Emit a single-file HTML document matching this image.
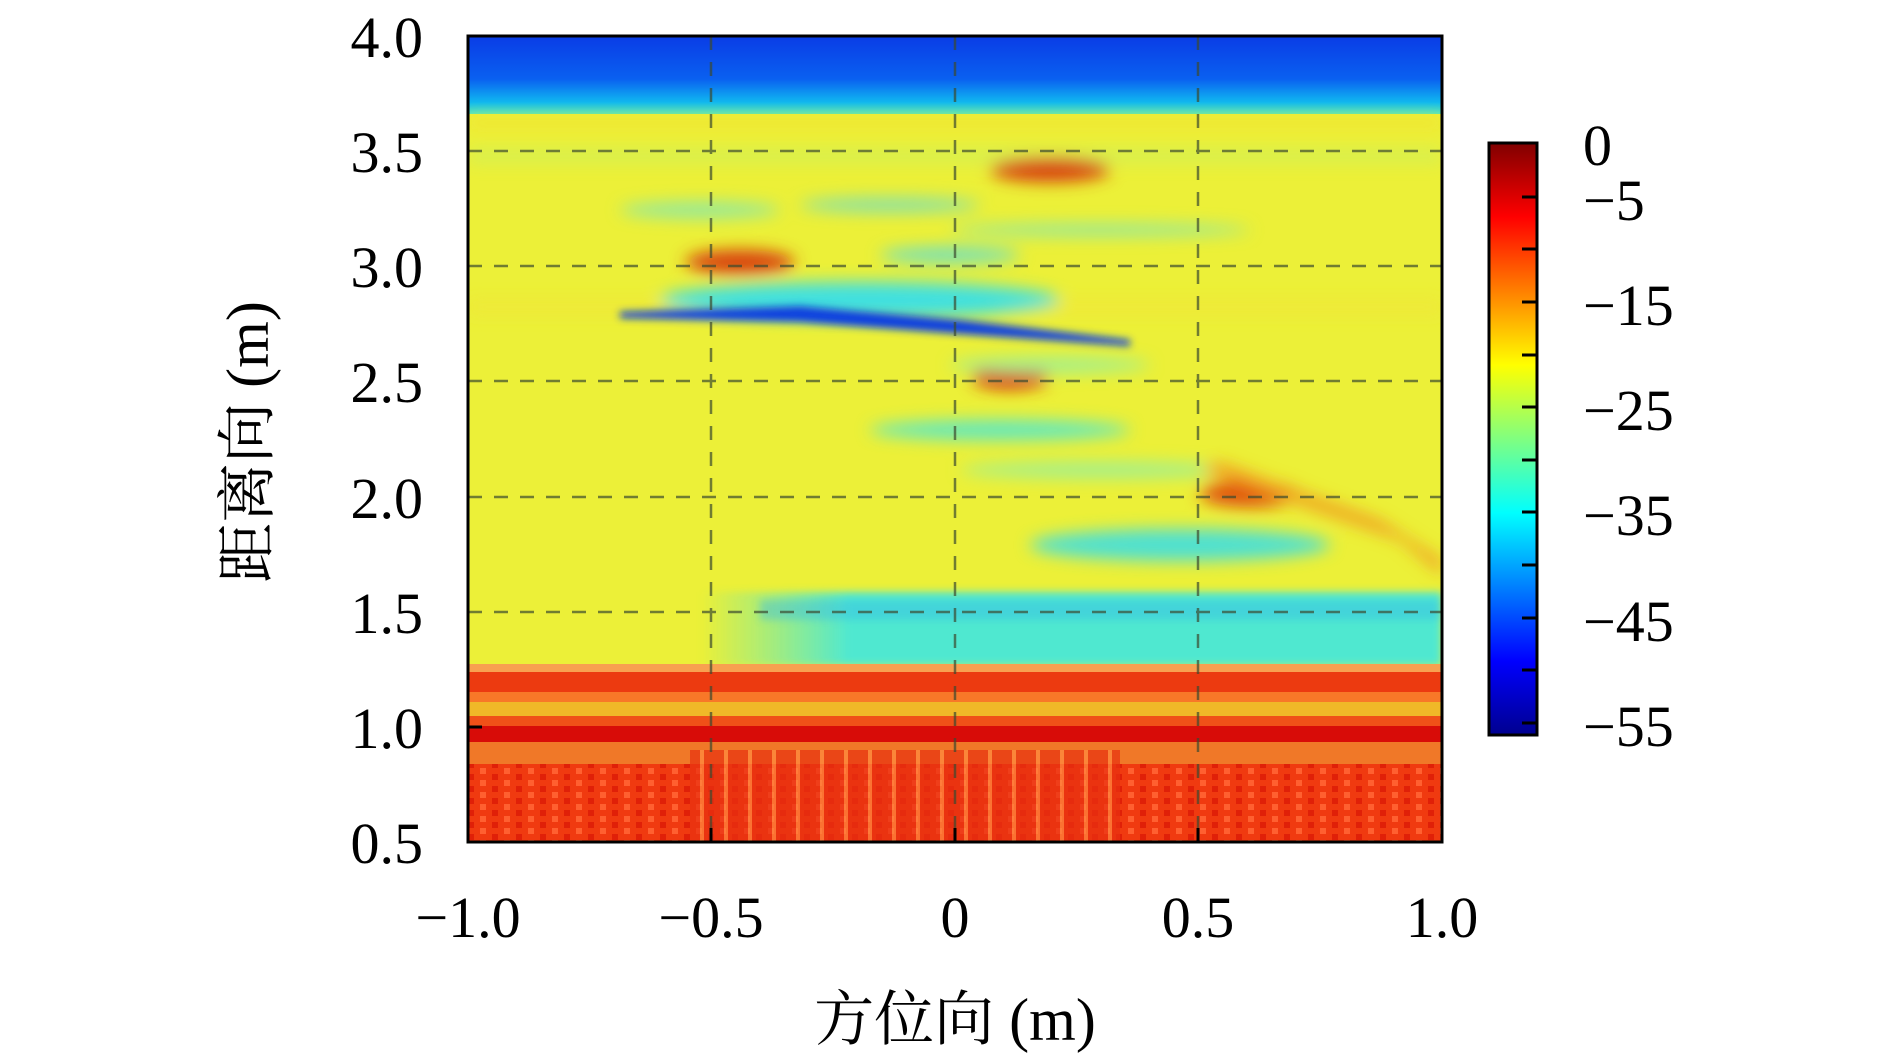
<!DOCTYPE html>
<html><head><meta charset="utf-8"><style>
html,body{margin:0;padding:0;background:#fff;}
svg text{font-family:"Liberation Serif","Noto Serif CJK SC",serif;fill:#000;}
</style></head><body>
<svg width="1890" height="1054" viewBox="0 0 1890 1054" xmlns="http://www.w3.org/2000/svg">
<defs>
<linearGradient id="jet" x1="0" y1="1" x2="0" y2="0">
<stop offset="0" stop-color="#00008f"/><stop offset="0.125" stop-color="#0000ff"/>
<stop offset="0.375" stop-color="#00ffff"/><stop offset="0.5" stop-color="#80ff80"/>
<stop offset="0.625" stop-color="#ffff00"/><stop offset="0.875" stop-color="#ff0000"/>
<stop offset="1" stop-color="#800000"/></linearGradient>
<linearGradient id="top" x1="0" y1="0" x2="0" y2="1">
<stop offset="0" stop-color="#0a3ce6"/><stop offset="0.55" stop-color="#0a60f0"/>
<stop offset="0.85" stop-color="#10b8f0"/><stop offset="1" stop-color="#50e8c0"/></linearGradient>
<linearGradient id="cy" x1="0" y1="0" x2="1" y2="0">
<stop offset="0" stop-color="#60e8c0" stop-opacity="0"/><stop offset="0.2" stop-color="#50e8d0"/><stop offset="1" stop-color="#50e8d0"/></linearGradient>
<filter id="b" x="-50%" y="-50%" width="200%" height="200%"><feGaussianBlur stdDeviation="8"/></filter>
<filter id="b2" x="-50%" y="-50%" width="200%" height="200%"><feGaussianBlur stdDeviation="4"/></filter>
<pattern id="chk" width="24" height="12" patternUnits="userSpaceOnUse">
<rect width="24" height="12" fill="#f03a10"/><rect width="6" height="6" fill="#ff6030"/><rect x="12" y="6" width="6" height="6" fill="#e02008"/></pattern>
<pattern id="vst" width="24" height="10" patternUnits="userSpaceOnUse">
<rect width="24" height="10" fill="#e83010"/><rect x="4" width="4" height="10" fill="#ff8a40"/></pattern>
<clipPath id="pc"><rect x="468" y="36" width="974" height="806"/></clipPath>
</defs>
<g clip-path="url(#pc)">
<rect x="468" y="36" width="974" height="806" fill="#ecf038"/>
<rect x="468" y="36" width="974" height="78" fill="url(#top)"/>
<g filter="url(#b)">
<rect x="468" y="118" width="974" height="10" fill="#f4e030" opacity="0.7"/>
<rect x="468" y="150" width="974" height="12" fill="#c8f060" opacity="0.7"/>
<rect x="468" y="300" width="974" height="14" fill="#f2e438" opacity="0.6"/>
<ellipse cx="1050" cy="170" rx="60" ry="12" fill="#d84010"/>
<ellipse cx="740" cy="262" rx="55" ry="12" fill="#d84010"/>
<ellipse cx="1010" cy="378" rx="38" ry="11" fill="#d83010"/>
<ellipse cx="1250" cy="494" rx="50" ry="13" fill="#e05010"/>
<ellipse cx="700" cy="210" rx="80" ry="8" fill="#90e8a0"/>
<ellipse cx="890" cy="205" rx="90" ry="7" fill="#80e0b0"/>
<ellipse cx="1100" cy="230" rx="150" ry="6" fill="#90e8a0"/>
<ellipse cx="860" cy="300" rx="200" ry="18" fill="#40e0e0"/>
<ellipse cx="1050" cy="365" rx="100" ry="8" fill="#a0f090"/>
<ellipse cx="1000" cy="430" rx="130" ry="10" fill="#60e8c0"/>
<ellipse cx="1100" cy="470" rx="140" ry="8" fill="#a0f090"/>
<ellipse cx="1180" cy="545" rx="150" ry="16" fill="#50e0d0"/>
<ellipse cx="950" cy="255" rx="70" ry="8" fill="#70e0c0"/>
<polygon points="1200,470 1400,540 1442,575 1442,560 1380,520 1220,462" fill="#f0a020"/>
</g>
<g filter="url(#b2)">
<polygon points="620,312 800,306 960,320 1130,340 1130,346 960,334 800,322 620,318" fill="#1040e0"/>
<rect x="700" y="592" width="742" height="74" fill="url(#cy)"/>
</g>
<rect x="760" y="600" width="680" height="20" fill="#30b8e8" opacity="0.4" filter="url(#b2)"/>
<rect x="468" y="664" width="974" height="8" fill="#f8a050"/>
<rect x="468" y="672" width="974" height="20" fill="#ec3a10"/>
<rect x="468" y="692" width="974" height="10" fill="#f87828"/>
<rect x="468" y="702" width="974" height="14" fill="#f0b828"/>
<rect x="468" y="716" width="974" height="10" fill="#f05018"/>
<rect x="468" y="726" width="974" height="16" fill="#d80c08"/>
<rect x="468" y="742" width="974" height="22" fill="#f07828"/>
<rect x="468" y="764" width="974" height="78" fill="url(#chk)"/>
<rect x="690" y="750" width="430" height="92" fill="url(#vst)" opacity="0.7"/>
</g>
<g stroke="#3c4a30" stroke-width="2.5" stroke-dasharray="14,12" opacity="0.7">
<line x1="711" y1="36" x2="711" y2="842"/><line x1="955" y1="36" x2="955" y2="842"/><line x1="1198" y1="36" x2="1198" y2="842"/>
<line x1="468" y1="151" x2="1442" y2="151"/><line x1="468" y1="266" x2="1442" y2="266"/>
<line x1="468" y1="381" x2="1442" y2="381"/><line x1="468" y1="497" x2="1442" y2="497"/>
<line x1="468" y1="612" x2="1442" y2="612"/>
</g>
<rect x="468" y="36" width="974" height="806" fill="none" stroke="#000" stroke-width="3"/>
<g stroke="#000" stroke-width="3">
<line x1="711" y1="842" x2="711" y2="828"/><line x1="955" y1="842" x2="955" y2="828"/><line x1="1198" y1="842" x2="1198" y2="828"/>
<line x1="468" y1="727" x2="482" y2="727"/>
</g>
<g font-size="58" text-anchor="end">
<text x="423" y="57">4.0</text><text x="423" y="172">3.5</text><text x="423" y="287">3.0</text>
<text x="423" y="402">2.5</text><text x="423" y="518">2.0</text><text x="423" y="633">1.5</text>
<text x="423" y="748">1.0</text><text x="423" y="863">0.5</text>
</g>
<g font-size="58" text-anchor="middle">
<text x="468" y="937">−1.0</text><text x="711" y="937">−0.5</text><text x="955" y="937">0</text>
<text x="1198" y="937">0.5</text><text x="1442" y="937">1.0</text>
<text x="955" y="1040" font-size="60">方位向 (m)</text>
</g>
<text transform="translate(268,442) rotate(-90)" font-size="60" text-anchor="middle">距离向 (m)</text>
<rect x="1489" y="143" width="48" height="592" fill="url(#jet)" stroke="#000" stroke-width="3"/>
<g stroke="#000" stroke-width="3">
<line x1="1522" y1="197" x2="1537" y2="197"/><line x1="1522" y1="249" x2="1537" y2="249"/>
<line x1="1522" y1="302" x2="1537" y2="302"/><line x1="1522" y1="355" x2="1537" y2="355"/>
<line x1="1522" y1="407" x2="1537" y2="407"/><line x1="1522" y1="460" x2="1537" y2="460"/>
<line x1="1522" y1="512" x2="1537" y2="512"/><line x1="1522" y1="565" x2="1537" y2="565"/>
<line x1="1522" y1="618" x2="1537" y2="618"/><line x1="1522" y1="670" x2="1537" y2="670"/>
<line x1="1522" y1="723" x2="1537" y2="723"/>
</g>
<g font-size="58">
<text x="1583" y="165">0</text><text x="1583" y="220">−5</text><text x="1583" y="325">−15</text>
<text x="1583" y="430">−25</text><text x="1583" y="535">−35</text><text x="1583" y="641">−45</text>
<text x="1583" y="746">−55</text>
</g>
</svg>
</body></html>
